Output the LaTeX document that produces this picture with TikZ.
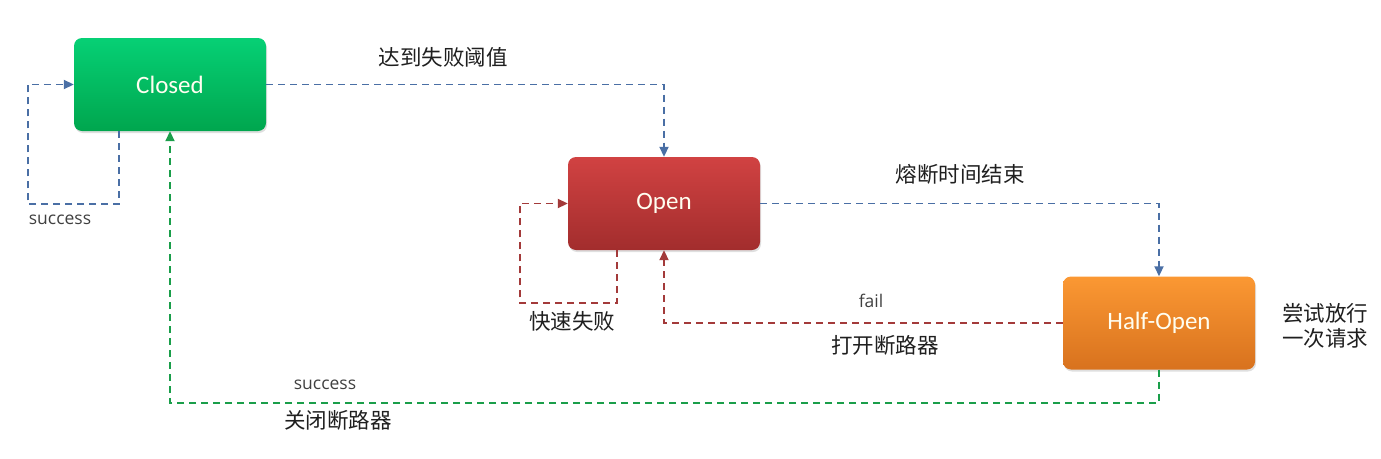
\documentclass[tikz,border=0pt]{standalone}
\usepackage{fontspec}
\setmainfont{Carlito}
\newfontfamily\cjk{Noto Sans CJK SC}
\newfontfamily\opensans{Open Sans}
\usetikzlibrary{arrows.meta,calc,shadows}
\definecolor{lblue}{HTML}{4A6FA5}
\definecolor{lred}{HTML}{A33A3A}
\definecolor{lgreen}{HTML}{1A9E4A}
\definecolor{gtop}{HTML}{06D075}
\definecolor{gbot}{HTML}{00A64E}
\definecolor{rtop}{HTML}{D14242}
\definecolor{rbot}{HTML}{A22D2D}
\definecolor{otop}{HTML}{FB9833}
\definecolor{obot}{HTML}{D8721E}
\tikzset{
  state/.style={rounded corners=8pt, minimum width=192pt, minimum height=93pt, inner sep=0pt,
    font=\fontsize{25}{28}\selectfont, text=white!94!yellow,
    drop shadow={shadow xshift=1pt, shadow yshift=-2pt, opacity=0.25}},
  conn/.style={line width=1.9pt, dash pattern=on 7pt off 5pt,
    -{Triangle[length=10pt,width=9pt]}},
  cnlabel/.style={font=\cjk\fontsize{21.5}{25}\selectfont, text=black!88},
  enlabel/.style={font=\opensans\fontsize{17.5}{21}\selectfont, text=black!75},
}
\begin{document}
\begin{tikzpicture}[x=1pt,y=-1pt]
\useasboundingbox (0,0) rectangle (1381,458);
\node[state, top color=gtop, bottom color=gbot] (closed) at (170,84.5) {Closed};
\node[state, top color=rtop, bottom color=rbot] (open) at (664,203.5) {Open};
\node[state, top color=otop, bottom color=obot] (half) at (1159,323) {Half-Open};

% Closed -> Open
\draw[conn, lblue] (closed.east) -| (open.north);
\node[cnlabel] (l1) at (443,57) {达到失败阈值};
% Closed self-loop
\coordinate (cs1) at ($(closed.south)+(-51,73)$);
\draw[conn, lblue] ($(closed.south)+(-51,0)$) -- (cs1) -| ($(closed.west)+(-46,0)$) -- (closed.west);
\node[enlabel] (l2) at (60,220) {success};
% Open -> Half-Open
\draw[conn, lblue] (open.east) -| (half.north);
\node[cnlabel] (l3) at (960,174) {熔断时间结束};
% Open self-loop
\coordinate (os1) at ($(open.south)+(-47,53)$);
\draw[conn, lred] ($(open.south)+(-47,0)$) -- (os1) -| ($(open.west)+(-48,0)$) -- (open.west);
\node[cnlabel] (l4) at (572,321) {快速失败};
% Half-Open -> Open
\draw[conn, lred] (half.west) -| (open.south);
\node[enlabel] (l5) at (871,301) {fail};
\node[cnlabel] (l6) at (885,345) {打开断路器};
% Half-Open -> Closed
\coordinate (hs1) at ($(half.south)+(0,33)$);
\draw[conn, lgreen] (half.south) -- (hs1) -| (closed.south);
\node[enlabel] (l7) at (325,385) {success};
\node[cnlabel] (l8) at (338,420) {关闭断路器};
% Half-Open note
\node[cnlabel, align=center, font=\cjk\fontsize{21.5}{25}\selectfont] (l9) at (1325,326) {尝试放行\\一次请求};
\end{tikzpicture}
\end{document}
